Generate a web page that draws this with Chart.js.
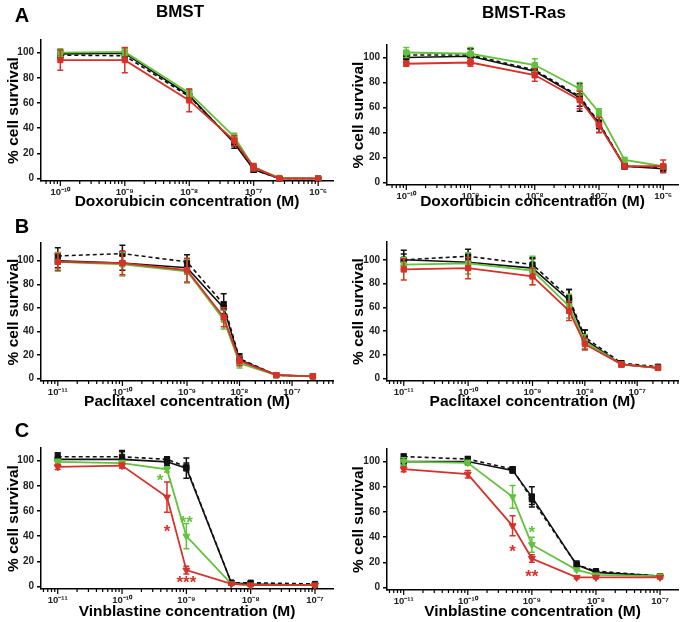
<!DOCTYPE html>
<html>
<head>
<meta charset="utf-8">
<script src="https://cdn.jsdelivr.net/npm/chart.js@4.4.1/dist/chart.umd.min.js"></script>
<style>
  html, body { margin: 0; padding: 0; background: #fff; }
  body { width: 687px; height: 622px; position: relative; overflow: hidden;
         font-family: "Liberation Sans", Arial, sans-serif; }
  canvas { position: absolute; }
  .lbl { position: absolute; font-weight: bold; color: #000; line-height: 1;
         transform: translate(-50%, -50%); white-space: nowrap; z-index: 2; }
</style>
</head>
<body>
<canvas id="aL" width="342" height="212" style="left:0;top:0"></canvas>
<canvas id="aR" width="342" height="212" style="left:345px;top:0"></canvas>
<canvas id="bL" width="342" height="202" style="left:0;top:210px"></canvas>
<canvas id="bR" width="342" height="202" style="left:345px;top:210px"></canvas>
<canvas id="cL" width="342" height="210" style="left:0;top:412px"></canvas>
<canvas id="cR" width="342" height="210" style="left:345px;top:412px"></canvas>

<div class="lbl" style="left:22px;top:15px;font-size:20px">A</div>
<div class="lbl" style="left:22px;top:226px;font-size:20px">B</div>
<div class="lbl" style="left:22px;top:430px;font-size:20px">C</div>
<div class="lbl" style="left:180px;top:11px;font-size:17px">BMST</div>
<div class="lbl" style="left:524px;top:12px;font-size:17px">BMST-Ras</div>

<script>
// ---------- concentrations (M) ----------
const concDox = [1e-10, 1e-9, 1e-8, 5e-8, 1e-7, 2.5e-7, 1e-6];
const concPac = [1e-11, 1e-10, 1e-9, 5e-9, 1e-8, 5e-8, 2.5e-7];
const concVin = [1e-11, 1e-10, 5e-10, 1e-9, 5e-9, 1e-8, 1e-7];

const yTicks = [0, 20, 40, 60, 80, 100];

// ---------- BMST / doxorubicin ----------
const bmstDoxCtrl  = [99, 99.5, 66, 28, 7, 0, 0];
const bmstDoxDash  = [98, 97.5, 65, 29, 7, 0, 0];
const bmstDoxGreen = [100, 100.5, 68, 33, 9, 0.5, 0];
const bmstDoxRed   = [94, 94, 62, 30, 9, 0, 0];
const bmstDoxCtrlSd  = [3, 4, 4, 4, 2, 0.5, 0.5];
const bmstDoxDashSd  = [2, 3, 3, 3, 2, 0.5, 0.5];
const bmstDoxGreenSd = [3, 3, 3, 3, 2, 0.5, 0.5];
const bmstDoxRedSd   = [8, 10, 9, 4, 3, 0.5, 0.5];

// ---------- BMST-Ras / doxorubicin ----------
const rasDoxCtrl  = [100, 101, 89, 68, 47, 13, 11];
const rasDoxDash  = [102, 102, 90, 69, 48, 13, 12];
const rasDoxGreen = [104, 103, 94, 75, 56, 18, 13];
const rasDoxRed   = [95, 96, 86, 66, 46, 13, 13];
const rasDoxCtrlSd  = [4, 6, 5, 11, 7, 2, 3];
const rasDoxDashSd  = [3, 5, 4, 8, 5, 2, 2];
const rasDoxGreenSd = [4, 5, 5, 5, 3, 2, 2];
const rasDoxRedSd   = [2, 3, 5, 7, 6, 2, 5];

// ---------- BMST / paclitaxel ----------
const bmstPacCtrl  = [100, 98, 94, 60, 16, 3, 2];
const bmstPacDash  = [104, 106, 99, 63, 17, 3, 2];
const bmstPacGreen = [99, 97, 91, 50, 13, 3, 2];
const bmstPacRed   = [99, 98, 92, 52, 15, 3, 2];
const bmstPacCtrlSd  = [6, 6, 5, 5, 4, 1, 1];
const bmstPacDashSd  = [7, 7, 6, 9, 4, 1, 1];
const bmstPacGreenSd = [8, 10, 10, 8, 4, 1, 1];
const bmstPacRedSd   = [7, 10, 10, 8, 4, 1, 1];

// ---------- BMST-Ras / paclitaxel ----------
const rasPacCtrl  = [100, 98, 93, 66, 33, 12, 9];
const rasPacDash  = [100, 103, 96, 68, 35, 13, 10];
const rasPacGreen = [96, 97, 91, 61, 31, 12, 9];
const rasPacRed   = [92, 93, 86, 57, 29, 12, 9];
const rasPacCtrlSd  = [8, 6, 8, 9, 8, 2, 1.5];
const rasPacDashSd  = [5, 6, 6, 7, 6, 2, 1.5];
const rasPacGreenSd = [6, 9, 12, 10, 6, 2, 1.5];
const rasPacRedSd   = [9, 9, 7, 8, 5, 2, 1.5];

// ---------- BMST / vinblastine ----------
const bmstVinCtrl  = [101, 101, 99, 94, 3, 2, 1];
const bmstVinDash  = [103, 103, 101, 95, 3, 3, 2];
const bmstVinGreen = [99, 98, 93, 40, 2, 1, 1];
const bmstVinRed   = [95, 96, 71, 13, 2, 1, 1];
const bmstVinCtrlSd  = [5, 7, 3, 8, 1.5, 1.5, 1];
const bmstVinDashSd  = [3, 4, 2, 3, 1, 1, 1];
const bmstVinGreenSd = [2, 2, 2, 10, 1, 1, 1];
const bmstVinRedSd   = [2, 2, 12, 3, 1, 1, 1];
const bmstVinStarX    = [3.9e-10, 5e-10, 1e-9, 1e-9];
const bmstVinStarY    = [87, 47, 54, 6];
const bmstVinStarText = ['*', '*', '**', '***'];
const bmstVinStarKey  = ['green', 'red', 'green', 'red'];

// ---------- BMST-Ras / vinblastine ----------
const rasVinCtrl  = [100, 100, 93, 72, 18, 12, 9];
const rasVinDash  = [104, 102, 94, 70, 18, 13, 9];
const rasVinGreen = [100, 99, 72, 34, 14, 10, 9];
const rasVinRed   = [94, 90, 49, 23, 8, 8, 8];
const rasVinCtrlSd  = [3, 2, 2, 8, 3, 2, 1.5];
const rasVinDashSd  = [2, 2, 2, 4, 2, 1.5, 1];
const rasVinGreenSd = [3, 2, 9, 6, 1, 1, 1.5];
const rasVinRedSd   = [2, 3, 8, 3, 1, 1, 1];
const rasVinStarX    = [5e-10, 1e-9, 1e-9];
const rasVinStarY    = [32, 47, 12];
const rasVinStarText = ['*', '*', '**'];
const rasVinStarKey  = ['red', 'green', 'red'];

// =============================
// estilos
// =============================
const COLORS = { ctrl: '#111111', dash: '#111111', green: '#63c23c', red: '#d7312a' };
const ORDER  = { ctrl: 2, dash: 3, green: 1, red: 0 };
const FONT = '"Liberation Sans", Arial, sans-serif';
Chart.defaults.font.family = FONT;

// log axis with piecewise decade widths (panel B axis is compressed past 10^-9)
class BrokenLogScale extends Chart.LogarithmicScale {
  static id = 'brokenlog';
  static defaults = {};
  getPixelForValue(value) {
    if (!(value > 0)) value = this.min;
    const k = this.knots;
    const v = Math.log10(value);
    let i = 0;
    while (i < k.length - 2 && v > k[i + 1][0]) i++;
    const a = k[i], b = k[i + 1];
    return this.getPixelForDecimal(a[1] + (v - a[0]) / (b[0] - a[0]) * (b[1] - a[1]));
  }
}
Chart.register(BrokenLogScale);

const SUP = { '-': '\u207B', '0': '\u2070', '1': '\u00B9', '2': '\u00B2', '3': '\u00B3',
  '4': '\u2074', '5': '\u2075', '6': '\u2076', '7': '\u2077', '8': '\u2078', '9': '\u2079' };
const sup = (n) => String(n).split('').map((c) => SUP[c]).join('');

// barras de error, dibujadas justo antes de cada serie
const errorBars = {
  id: 'errorBars',
  beforeDatasetDraw(chart, args) {
    const ds = chart.data.datasets[args.index];
    if (!ds.sd) return;
    const { x, y } = chart.scales;
    const ctx = chart.ctx;
    ctx.save();
    ctx.strokeStyle = ds.borderColor;
    ctx.lineWidth = 1.5;
    ds.data.forEach((p, i) => {
      const s = ds.sd[i];
      if (!s) return;
      const px = x.getPixelForValue(p.x);
      const top = y.getPixelForValue(p.y + s);
      const bot = y.getPixelForValue(p.y - s);
      ctx.beginPath();
      ctx.moveTo(px, top); ctx.lineTo(px, bot);
      ctx.moveTo(px - 3, top); ctx.lineTo(px + 3, top);
      ctx.moveTo(px - 3, bot); ctx.lineTo(px + 3, bot);
      ctx.stroke();
    });
    ctx.restore();
  }
};

// marcas menores/mayores del eje log
const logTicks = {
  id: 'logTicks',
  afterDraw(chart) {
    const sx = chart.scales.x, ctx = chart.ctx, y0 = chart.chartArea.bottom;
    ctx.save();
    ctx.strokeStyle = '#000';
    ctx.lineWidth = 1.2;
    sx.ticks.forEach((t) => {
      const px = sx.getPixelForValue(t.value);
      const len = t.major ? 5 : 3;
      ctx.beginPath();
      ctx.moveTo(px, y0);
      ctx.lineTo(px, y0 + len);
      ctx.stroke();
    });
    ctx.restore();
  }
};

function starPlugin(xs, ys, texts, keys) {
  return {
    id: 'stars',
    afterDatasetsDraw(chart) {
      const { x, y } = chart.scales;
      const ctx = chart.ctx;
      ctx.save();
      ctx.font = 'bold 17px ' + FONT;
      ctx.textAlign = 'center';
      ctx.textBaseline = 'alphabetic';
      xs.forEach((v, i) => {
        ctx.fillStyle = COLORS[keys[i]];
        ctx.fillText(texts[i], x.getPixelForValue(v), y.getPixelForValue(ys[i]) + 9.5);
      });
      ctx.restore();
    }
  };
}

function makeDataset(key, conc, vals, sd, down) {
  const tri = down && (key === 'green' || key === 'red');
  return {
    label: key,
    data: conc.map((c, i) => ({ x: c, y: vals[i] })),
    sd: sd,
    borderColor: COLORS[key],
    backgroundColor: COLORS[key],
    borderWidth: key === 'green' || key === 'red' ? 1.8 : 1.6,
    borderDash: key === 'dash' ? [4, 3] : [],
    pointStyle: tri ? 'triangle' : 'rect',
    pointRotation: tri ? 180 : 0,
    pointRadius: tri ? 4 : 3.7,
    pointBorderWidth: 1,
    order: ORDER[key],
    clip: false,
    tension: 0
  };
}

function makePanel(id, conc, knots, box, ymax, xTitle, sets, extra) {
  new Chart(document.getElementById(id), {
    type: 'line',
    data: { datasets: sets },
    plugins: [errorBars, logTicks].concat(extra || []),
    options: {
      responsive: false,
      animation: false,
      events: [],
      layout: { padding: { left: 0, right: box.w - box.right, top: box.top, bottom: 0 } },
      plugins: { legend: { display: false }, tooltip: { enabled: false } },
      scales: {
        x: {
          type: 'brokenlog',
          min: Math.pow(10, knots[0][0]),
          max: Math.pow(10, knots[knots.length - 1][0]),
          beforeUpdate: (s) => { s.knots = knots; },
          afterBuildTicks: (s) => {
            const ticks = [];
            const lo = Math.floor(Math.log10(s.min)), hi = Math.ceil(Math.log10(s.max));
            for (let e = lo; e <= hi; e++) {
              for (let k = 1; k <= 9; k++) {
                const v = k * Math.pow(10, e);
                if (v >= s.min && v <= s.max) ticks.push({ value: v, major: k === 1 });
              }
            }
            s.ticks = ticks;
          },
          afterFit: (s) => { s.height = box.h - box.bottom; },
          grid: { display: false, drawTicks: false },
          border: { display: true, color: '#000', width: 1.5 },
          ticks: {
            autoSkip: false, maxRotation: 0, minRotation: 0, padding: 6,
            color: '#222', font: { size: 9.5, weight: 'bold' },
            callback: (v) => {
              const e = Math.log10(v);
              if (Math.abs(e - Math.round(e)) > 1e-6) return '';
              return '10' + sup(Math.round(e));
            }
          },
          title: { display: true, text: xTitle, color: '#000',
                   font: { size: 15.5, weight: 'bold' }, padding: { top: 0, bottom: 1 } }
        },
        y: {
          min: -2, max: ymax,
          afterBuildTicks: (s) => { s.ticks = yTicks.map((v) => ({ value: v })); },
          afterFit: (s) => { s.width = box.left; },
          grid: { drawOnChartArea: false, color: '#000', lineWidth: 1.5, tickLength: 4 },
          border: { color: '#000', width: 1.5 },
          ticks: { padding: 3, color: '#222', font: { size: 10, weight: 'bold' } },
          title: { display: true, text: '% cell survival', color: '#000',
                   font: { size: 15.5, weight: 'bold' }, padding: { top: 4, bottom: 0 } }
        }
      }
    }
  });
}

const knotsDox = [[-10.3, 0], [-5.77, 1]];
const knotsPac = [[-11.26, 0], [-9, 0.5], [-6.22, 1]];
const knotsVin = [[-11.26, 0], [-6.72, 1]];

// A
makePanel('aL', concDox, knotsDox, { w: 342, h: 212, left: 41, right: 333, top: 40, bottom: 181 }, 110,
  'Doxorubicin concentration (M)', [
    makeDataset('ctrl', concDox, bmstDoxCtrl, bmstDoxCtrlSd),
    makeDataset('dash', concDox, bmstDoxDash, bmstDoxDashSd),
    makeDataset('green', concDox, bmstDoxGreen, bmstDoxGreenSd),
    makeDataset('red', concDox, bmstDoxRed, bmstDoxRedSd)
  ]);
makePanel('aR', concDox, knotsDox, { w: 342, h: 212, left: 42, right: 333, top: 45, bottom: 185 }, 110,
  'Doxorubicin concentration (M)', [
    makeDataset('ctrl', concDox, rasDoxCtrl, rasDoxCtrlSd),
    makeDataset('dash', concDox, rasDoxDash, rasDoxDashSd),
    makeDataset('green', concDox, rasDoxGreen, rasDoxGreenSd),
    makeDataset('red', concDox, rasDoxRed, rasDoxRedSd)
  ]);

// B
makePanel('bL', concPac, knotsPac, { w: 342, h: 202, left: 41, right: 333, top: 33, bottom: 171 }, 115,
  'Paclitaxel concentration (M)', [
    makeDataset('ctrl', concPac, bmstPacCtrl, bmstPacCtrlSd),
    makeDataset('dash', concPac, bmstPacDash, bmstPacDashSd),
    makeDataset('green', concPac, bmstPacGreen, bmstPacGreenSd),
    makeDataset('red', concPac, bmstPacRed, bmstPacRedSd)
  ]);
makePanel('bR', concPac, knotsPac, { w: 342, h: 202, left: 42, right: 333, top: 32, bottom: 171 }, 115,
  'Paclitaxel concentration (M)', [
    makeDataset('ctrl', concPac, rasPacCtrl, rasPacCtrlSd),
    makeDataset('dash', concPac, rasPacDash, rasPacDashSd),
    makeDataset('green', concPac, rasPacGreen, rasPacGreenSd),
    makeDataset('red', concPac, rasPacRed, rasPacRedSd)
  ]);

// C
makePanel('cL', concVin, knotsVin, { w: 342, h: 210, left: 41, right: 333, top: 36, bottom: 177 }, 110,
  'Vinblastine concentration (M)', [
    makeDataset('ctrl', concVin, bmstVinCtrl, bmstVinCtrlSd, true),
    makeDataset('dash', concVin, bmstVinDash, bmstVinDashSd, true),
    makeDataset('green', concVin, bmstVinGreen, bmstVinGreenSd, true),
    makeDataset('red', concVin, bmstVinRed, bmstVinRedSd, true)
  ], [starPlugin(bmstVinStarX, bmstVinStarY, bmstVinStarText, bmstVinStarKey)]);
makePanel('cR', concVin, knotsVin, { w: 342, h: 210, left: 42, right: 333, top: 37, bottom: 178 }, 110,
  'Vinblastine concentration (M)', [
    makeDataset('ctrl', concVin, rasVinCtrl, rasVinCtrlSd, true),
    makeDataset('dash', concVin, rasVinDash, rasVinDashSd, true),
    makeDataset('green', concVin, rasVinGreen, rasVinGreenSd, true),
    makeDataset('red', concVin, rasVinRed, rasVinRedSd, true)
  ], [starPlugin(rasVinStarX, rasVinStarY, rasVinStarText, rasVinStarKey)]);
</script>
</body>
</html>
